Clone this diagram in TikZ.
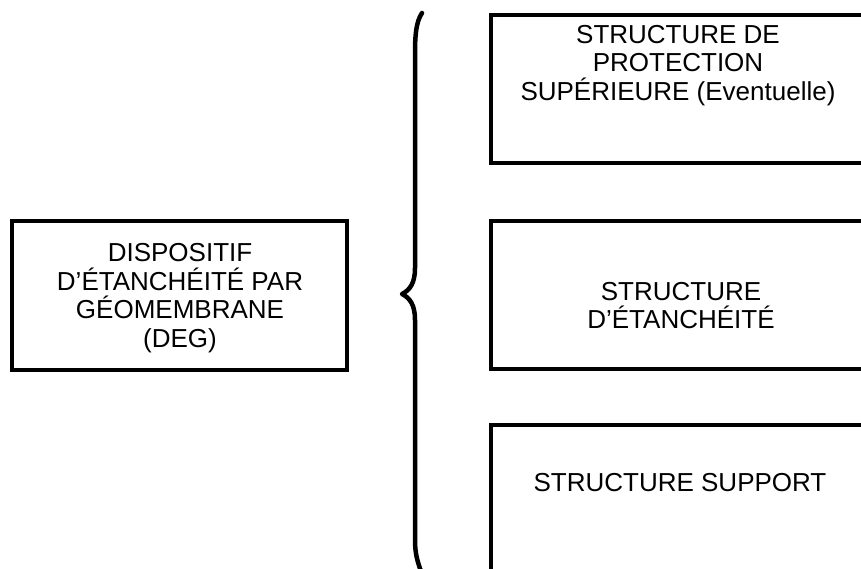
\documentclass[tikz,border=0pt]{standalone}
\usepackage{fontspec}
\setmainfont{Liberation Sans}
\begin{document}
\begin{tikzpicture}[x=1bp,y=-1bp,
  box/.style={draw=black, line width=3.5bp, rectangle, inner sep=0pt},
  leftbox/.style={box, minimum width=335bp, minimum height=149bp},
  rightbox/.style={box, minimum width=379bp, minimum height=148bp},
  label/.style={inner sep=0pt, anchor=north, align=center,
    font=\fontsize{26bp}{28.5bp}\selectfont},
  bracestyle/.style={line width=4.5bp, line cap=round, line join=round}]
\useasboundingbox (0,0) rectangle (861,569);
\clip (0,0) rectangle (861,569);
\fill[white] (0,0) rectangle (861,569);
% boxes
\node[leftbox]  (deg) at (179.5,295.5) {};
\node[rightbox] (top) at (680.5,89) {};
\node[rightbox] (mid) at (680.5,295) {};
\node[rightbox] (bot) at (680.5,499) {};
% texts
\node[label] (degtxt) at (180,243.5) {DISPOSITIF\\D’ÉTANCHÉITÉ PAR\\GÉOMEMBRANE\\(DEG)};
\node[label] (toptxt) at (678,25) {STRUCTURE DE\\PROTECTION\\SUPÉRIEURE (Eventuelle)};
\node[label] (midtxt) at (681,282) {STRUCTURE\\D’ÉTANCHÉITÉ};
\node[label] (bottxt) at (680,473) {STRUCTURE SUPPORT};
% brace
\draw[bracestyle] (422,13) .. controls (416,22) and (415,35) .. (415,55)
  -- (415,268) .. controls (415,283) and (410,290) .. (402,294)
  .. controls (410,298) and (415,305) .. (415,320)
  -- (415,540) .. controls (415,555) and (418,563) .. (422,574);
\end{tikzpicture}
\end{document}
